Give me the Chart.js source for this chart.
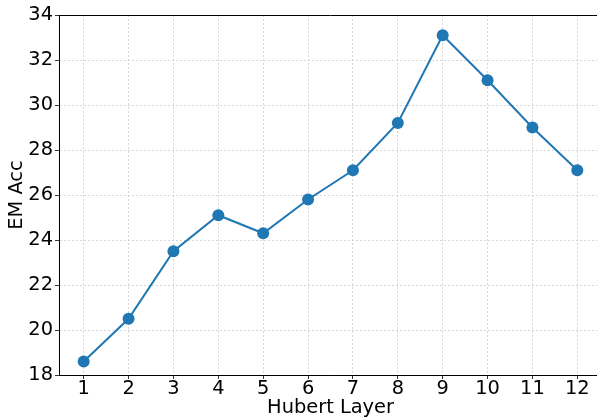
<!DOCTYPE html>
<html lang="en">
<head>
    <meta charset="UTF-8">
    <title>EM Acc by Hubert Layer</title>
    <style>
        html, body {
            margin: 0;
            padding: 0;
            background: #ffffff;
            overflow: hidden;
        }
        #wrap {
            width: 608px;
            height: 419px;
        }
        #layerChart {
            width: 608px;
            height: 419px;
        }
    </style>
    <script src="https://cdn.jsdelivr.net/npm/chart.js@4"></script>
</head>
<body>
    <!-- canvas is a bit wider than the window: the right spine is cut off like in the original -->
    <div id="wrap">
        <canvas id="layerChart" width="608" height="419"></canvas>
    </div>

    <script>
        // values
        const layers = [1, 2, 3, 4, 5, 6, 7, 8, 9, 10, 11, 12];
        const emAcc = [18.6, 20.5, 23.5, 25.1, 24.3, 25.8, 27.1, 29.2, 33.1, 31.1, 29.0, 27.1];
        const yTicks = [18, 20, 22, 24, 26, 28, 30, 32, 34];

        const font = { family: "'DejaVu Sans', sans-serif", size: 19.4 };
        const gridStyle = {
            color: '#cccccc',
            lineWidth: 0.8,
            tickLength: 4,
            tickColor: '#000000',
            tickWidth: 0.8
        };
        const borderStyle = { display: true, color: '#000000', width: 1, dash: [2, 2] };

        // matplotlib style top spine
        const topSpine = {
            id: 'topSpine',
            afterDraw(chart) {
                const { ctx, chartArea } = chart;
                ctx.save();
                ctx.strokeStyle = '#000000';
                ctx.lineWidth = 1;
                ctx.beginPath();
                ctx.moveTo(chartArea.left, chartArea.top + 0.5);
                ctx.lineTo(chartArea.right, chartArea.top + 0.5);
                ctx.stroke();
                ctx.restore();
            }
        };

        const ctx = document.getElementById('layerChart').getContext('2d');
        new Chart(ctx, {
            type: 'line',
            data: {
                datasets: [{
                    label: 'EM Acc',
                    data: layers.map((l, i) => ({ x: l, y: emAcc[i] })),
                    borderColor: '#1f77b4',
                    backgroundColor: '#1f77b4',
                    borderWidth: 2,
                    pointRadius: 6,
                    pointHoverRadius: 6,
                    pointBorderWidth: 0,
                    tension: 0,
                    fill: false
                }]
            },
            options: {
                responsive: false,
                animation: false,
                devicePixelRatio: 1,
                layout: { padding: { top: 15, right: 0, left: 0, bottom: 0 } },
                plugins: {
                    legend: { display: false },
                    tooltip: { enabled: false }
                },
                scales: {
                    x: {
                        type: 'linear',
                        min: 0.45,
                        max: 12.55,
                        afterBuildTicks: (scale) => {
                            scale.ticks = layers.map(v => ({ value: v }));
                        },
                        afterFit: (scale) => { scale.height = 44; },
                        ticks: {
                            color: '#000000',
                            font: font,
                            padding: -2,
                            maxRotation: 0,
                            autoSkip: false
                        },
                        grid: gridStyle,
                        border: borderStyle,
                        title: {
                            display: true,
                            text: 'Hubert Layer',
                            color: '#000000',
                            font: font,
                            padding: { top: 0, bottom: -1 }
                        }
                    },
                    y: {
                        min: 18,
                        max: 34,
                        afterBuildTicks: (scale) => {
                            scale.ticks = yTicks.map(v => ({ value: v }));
                        },
                        afterFit: (scale) => { scale.width = 59; },
                        ticks: {
                            color: '#000000',
                            font: font,
                            padding: 2
                        },
                        grid: gridStyle,
                        border: borderStyle,
                        title: {
                            display: true,
                            text: 'EM Acc',
                            color: '#000000',
                            font: font,
                            padding: { top: 5, bottom: 0 }
                        }
                    }
                }
            },
            plugins: [topSpine]
        });
    </script>
</body>
</html>
